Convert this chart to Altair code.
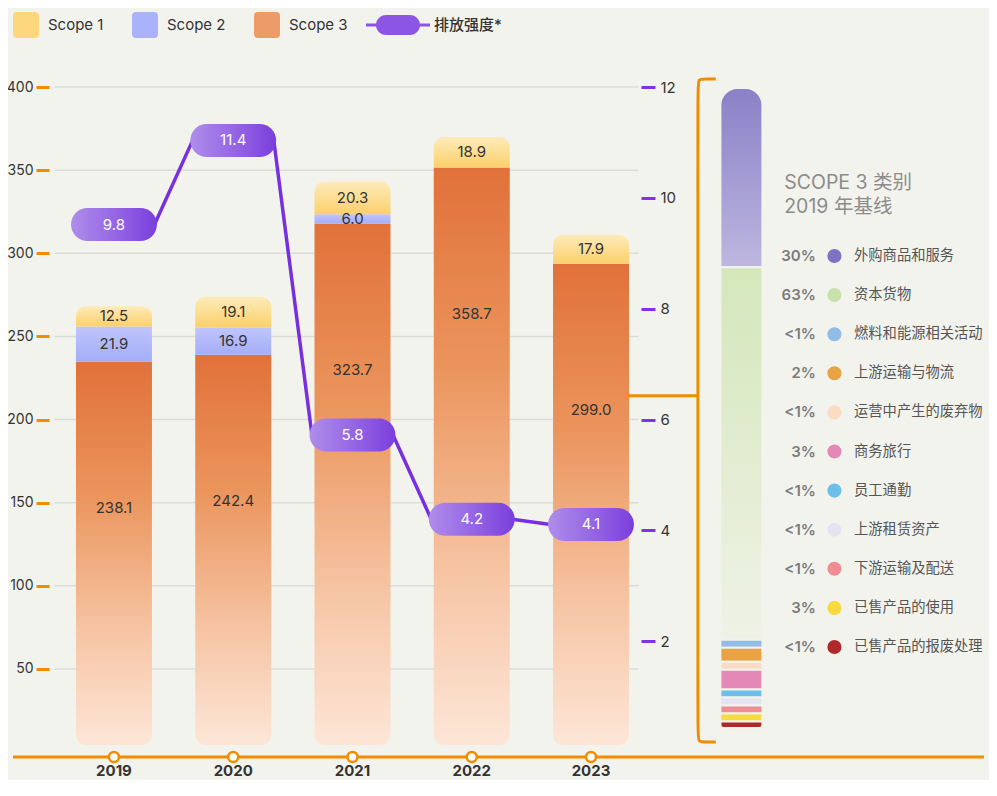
import altair as alt
import pandas as pd

# ---------------- data ----------------
years = ["2019", "2020", "2021", "2022", "2023"]
scope1 = [12.5, 19.1, 20.3, 18.9, 17.9]
scope2 = [21.9, 16.9, 6.0, 0.0, 0.0]
scope3 = [238.1, 242.4, 323.7, 358.7, 299.0]
intensity = [9.8, 11.4, 5.8, 4.2, 4.1]

left_ticks = [50, 100, 150, 200, 250, 300, 350, 400]
right_ticks = [2, 4, 6, 8, 10, 12]

legend_series = ["Scope 1", "Scope 2", "Scope 3"]
intensity_name = "排放强度*"

panel_title = ["SCOPE 3 类别", "2019 年基线"]
cat_names = ["外购商品和服务", "资本货物", "燃料和能源相关活动", "上游运输与物流",
             "运营中产生的废弃物", "商务旅行", "员工通勤", "上游租赁资产",
             "下游运输及配送", "已售产品的使用", "已售产品的报废处理"]
cat_pct = ["30%", "63%", "<1%", "2%", "<1%", "3%", "<1%", "<1%", "<1%", "3%", "<1%"]
# visual share of the stacked category bar (as drawn in the picture)
cat_share = [28.0, 58.2, 1.25, 2.2, 1.25, 3.1, 1.25, 1.25, 1.25, 1.25, 1.0]

# ---------------- styles ----------------
FONT = "Inter, 'Noto Sans CJK SC', sans-serif"
BG = "#f3f3ee"
ORANGE = "#f08c00"
PURPLE_LINE = "#7630df"
TXT = "#333333"
legend_colors = ["#fdd67e", "#aab3fa", "#ec9b69"]
cat_colors = ["#7d73c2", "#c9e2ab", "#92bbe6", "#e9a244", "#fbdcc2", "#e488b6",
              "#6dbfe9", "#e5e3f2", "#ee8d93", "#f6da3e", "#b0292a"]


def vgrad(stops):
    return alt.LinearGradient(gradient="linear", x1=0, x2=0, y1=0, y2=1,
                              stops=[alt.GradientStop(offset=o, color=c) for o, c in stops])


def hgrad(stops):
    return alt.LinearGradient(gradient="linear", x1=0, x2=1, y1=0, y2=0,
                              stops=[alt.GradientStop(offset=o, color=c) for o, c in stops])


X_MIN, X_MAX = -0.8465, 7.295
X_SCALE = alt.Scale(domain=[X_MIN, X_MAX], nice=False, zero=False)
Y_LEFT = alt.Scale(domain=[0, 400], nice=False, zero=False)
Y_RIGHT = alt.Scale(domain=[0, 12], nice=False, zero=False)
Y_BAR = alt.Scale(domain=[-4.3, 408.7], nice=False, zero=False)
Y_INT = alt.Scale(domain=[-0.131, 12.32], nice=False, zero=False)
Y_PANEL = alt.Scale(domain=[-3.75, 100.16], nice=False, zero=False)


def xd(v):
    return alt.XDatum(v, scale=X_SCALE, axis=None)


# ---------------- tables ----------------
n = len(years)
bars = pd.DataFrame({"idx": list(range(n)), "year": years,
                     "s1": scope1, "s2": scope2, "s3": scope3})
bars["base"] = 0.0
bars["top3"] = bars["s3"]
bars["top2"] = bars["s3"] + bars["s2"]
bars["top1"] = bars["top2"] + bars["s1"]
bars["mid2"] = (bars["top3"] + bars["top2"]) / 2
bars["mid1"] = (bars["top2"] + bars["top1"]) / 2
bars["l1"] = [f"{v:.1f}" for v in scope1]
bars["l2"] = [f"{v:.1f}" for v in scope2]
bars["l3"] = [f"{v:.1f}" for v in scope3]

line_rows = []
for i, v in enumerate(intensity):
    line_rows.append({"x": i - 0.34, "v": v, "o": 2 * i})
    line_rows.append({"x": i + 0.34, "v": v, "o": 2 * i + 1})
line_df = pd.DataFrame(line_rows)
pill_df = pd.DataFrame({"idx": list(range(n)), "xl": [i - 0.36 for i in range(n)],
                        "xr": [i + 0.36 for i in range(n)], "v": intensity,
                        "lab": [f"{v:.1f}" for v in intensity]})

cat_df = pd.DataFrame({"name": cat_names, "pct": cat_pct, "share": cat_share,
                       "col": cat_colors, "row": list(range(len(cat_names)))})
bottoms, tops = [0.0] * len(cat_names), [0.0] * len(cat_names)
acc = 0.0
for i in reversed(range(len(cat_names))):
    bottoms[i] = acc
    acc += cat_share[i]
    tops[i] = acc
cat_df["y0"] = bottoms
cat_df["y1"] = tops

# ---------------- left axis + grid ----------------
grid = alt.Chart(pd.DataFrame({"v": left_ticks})).mark_rule(
    color="#dcdcd8", strokeWidth=1.5
).encode(
    x=xd(-0.498), x2=alt.datum(4.398),
    y=alt.Y("v:Q", scale=Y_LEFT, axis=alt.Axis(
        orient="left", offset=-41, values=left_ticks, domain=False, grid=False,
        tickColor=ORANGE, tickWidth=3, tickSize=13, labelFontSize=14,
        labelColor=TXT, labelPadding=3, title=None, labelFont=FONT)),
)

# ---------------- emissions bars ----------------
xn = alt.X("idx:Q", scale=X_SCALE, axis=None)

base = alt.Chart(bars)
b3 = base.mark_bar(size=76, cornerRadiusBottomLeft=10, cornerRadiusBottomRight=10,
                   fill=vgrad([(0, "#e1713a"), (0.35, "#eb955d"), (0.7, "#f6c4a3"), (1, "#fde6d7")])
                   ).encode(x=xn, y=alt.Y("top3:Q", scale=Y_BAR, axis=None), y2="base:Q")
b2 = base.mark_bar(size=76, fill=vgrad([(0, "#c0c5fc"), (1, "#a4adf8")])).encode(
    x=xn, y=alt.Y("top2:Q", scale=Y_BAR, axis=None), y2="top3:Q")
b1 = base.mark_bar(size=76, cornerRadiusTopLeft=10, cornerRadiusTopRight=10,
                   fill=vgrad([(0, "#fdebba"), (1, "#fcd06c")])).encode(
    x=xn, y=alt.Y("top1:Q", scale=Y_BAR, axis=None), y2="top2:Q")
t3 = base.mark_text(fontSize=15, color=TXT, dy=146, font=FONT).encode(
    x=xn, y=alt.Y("top3:Q", scale=Y_BAR, axis=None), text="l3:N")
t2 = base.transform_filter("datum.s2 > 0").mark_text(fontSize=15, color=TXT, font=FONT).encode(
    x=xn, y=alt.Y("mid2:Q", scale=Y_BAR, axis=None), text="l2:N")
t1 = base.mark_text(fontSize=15, color=TXT, font=FONT).encode(
    x=xn, y=alt.Y("mid1:Q", scale=Y_BAR, axis=None), text="l1:N")

# x baseline with year markers and labels
baseline = alt.Chart(pd.DataFrame({"a": [0]})).mark_rule(color=ORANGE, strokeWidth=3).encode(
    x=xd(X_MIN), x2=alt.datum(X_MAX), y=alt.value(670))
dots = base.mark_point(shape="circle", filled=True, fill="#fbfbf8", stroke=ORANGE,
                       strokeWidth=2.5, size=100, opacity=1).encode(x=xn, y=alt.value(670))
year_t = base.mark_text(fontSize=15, fontWeight="bold", color=TXT, font=FONT,
                        baseline="middle").encode(x=xn, y=alt.value(684), text="year:N")
bars_group = alt.layer(b3, b2, b1, t3, t2, t1, baseline, dots, year_t)

# ---------------- intensity line ----------------
iline = alt.Chart(line_df).mark_line(color=PURPLE_LINE, strokeWidth=3.5).encode(
    x=alt.X("x:Q", scale=X_SCALE, axis=None),
    y=alt.Y("v:Q", scale=Y_INT, axis=None), order="o:Q")
pills = alt.Chart(pill_df).mark_bar(orient="horizontal", size=33, cornerRadius=16.5,
                                    fill=hgrad([(0, "#ae8dea"), (0.55, "#9463e4"), (1, "#7a3fdd")])
                                    ).encode(
    x=alt.X("xl:Q", scale=X_SCALE, axis=None), x2="xr:Q",
    y=alt.Y("v:Q", scale=Y_INT, axis=None))
ptext = alt.Chart(pill_df).mark_text(fontSize=15, color="white", font=FONT).encode(
    x=alt.X("idx:Q", scale=X_SCALE, axis=None),
    y=alt.Y("v:Q", scale=Y_INT, axis=None), text="lab:N")
int_group = alt.layer(iline, pills, ptext)

# ---------------- right axis ----------------
raxis = alt.Chart(pd.DataFrame({"v": right_ticks})).mark_point(opacity=0).encode(
    x=alt.value(-500),
    y=alt.Y("v:Q", scale=Y_RIGHT, axis=alt.Axis(
        orient="right", offset=-348, values=right_ticks, domain=False, grid=False,
        tickColor="#8033e6", tickWidth=3, tickSize=14, labelFontSize=15,
        labelColor=TXT, labelPadding=5, title=None, labelFont=FONT)))

# ---------------- scope 3 panel ----------------
bracket_df = pd.DataFrame({
    "x": [5.046, 4.962, 4.896, 4.896, 4.896, 4.896, 4.962, 5.046],
    "y": [101.41, 101.41, 101.41, 100.16, -0.935, -2.185, -2.185, -2.185],
    "o": list(range(8))})
bracket = alt.Chart(bracket_df).mark_line(color=ORANGE, strokeWidth=3, interpolate="basis").encode(
    x=alt.X("x:Q", scale=X_SCALE, axis=None),
    y=alt.Y("y:Q", scale=Y_PANEL, axis=None), order="o:Q")
connector = alt.Chart(pd.DataFrame({"y": [51.9]})).mark_rule(color=ORANGE, strokeWidth=3).encode(
    x=xd(4.307), x2=alt.datum(4.896), y=alt.Y("y:Q", scale=Y_PANEL, axis=None))

cat_base = alt.Chart(cat_df)
cx = xd(5.261)
seg_top = cat_base.transform_filter("datum.row == 0").mark_bar(
    size=42, cornerRadiusTopLeft=17, cornerRadiusTopRight=17, stroke=BG, strokeWidth=2,
    fill=vgrad([(0, "#8a80c6"), (1, "#bdb7e0")])).encode(
    x=cx, y=alt.Y("y1:Q", scale=Y_PANEL, axis=None), y2="y0:Q")
seg_green = cat_base.transform_filter("datum.row == 1").mark_bar(
    size=42, stroke=BG, strokeWidth=2,
    fill=vgrad([(0, "#d4e7ba"), (1, "#eff2e6")])).encode(
    x=cx, y=alt.Y("y1:Q", scale=Y_PANEL, axis=None), y2="y0:Q")
seg_small = cat_base.transform_filter("datum.row >= 2 && datum.row <= 9").mark_bar(
    size=42, stroke=BG, strokeWidth=2).encode(
    x=cx, y=alt.Y("y1:Q", scale=Y_PANEL, axis=None), y2="y0:Q",
    color=alt.Color("col:N", scale=None))
seg_last = cat_base.transform_filter("datum.row == 10").mark_bar(
    size=42, stroke=BG, strokeWidth=2, cornerRadiusBottomLeft=8, cornerRadiusBottomRight=8).encode(
    x=cx, y=alt.Y("y1:Q", scale=Y_PANEL, axis=None), y2="y0:Q",
    color=alt.Color("col:N", scale=None))
panel_group = alt.layer(bracket, connector, seg_top, seg_green, seg_small, seg_last)

# ---------------- panel legend rows ----------------
YR = alt.Y("row:O", scale=alt.Scale(type="point", range=[169, 560], padding=0), axis=None)
pct_t = cat_base.mark_text(align="right", fontSize=15, fontWeight=600, color="#7b7b7b", font=FONT).encode(
    x=xd(5.885), y=YR, text="pct:N")
dot_c = cat_base.mark_circle(size=200, opacity=1).encode(
    x=xd(6.041), y=YR, color=alt.Color("col:N", scale=None))
name_t = cat_base.mark_text(align="left", fontSize=14.3, color="#555555", font=FONT).encode(
    x=xd(6.205), y=YR, text="name:N")
title_t = alt.Chart(pd.DataFrame({"a": [0]})).mark_text(
    text=panel_title, align="left", baseline="top", fontSize=19.5, lineHeight=24,
    color="#8c8c8c", font=FONT).encode(x=xd(5.62), y=alt.value(87))
rows_group = alt.layer(pct_t, dot_c, name_t, title_t)

# ---------------- legends ----------------
sq_path = ("M-0.7,-1 L0.7,-1 Q1,-1 1,-0.7 L1,0.7 Q1,1 0.7,1 L-0.7,1 Q-1,1 -1,0.7 "
           "L-1,-0.7 Q-1,-1 -0.7,-1 Z")
cap_path = ("M-1.4545,-0.073 L-0.95,-0.073 L-0.95,0.073 L-1.4545,0.073 Z "
            "M0.95,-0.073 L1.4545,-0.073 L1.4545,0.073 L0.95,0.073 Z "
            "M-0.5455,-0.4545 L0.5455,-0.4545 A0.4545,0.4545 0 0 1 0.5455,0.4545 "
            "L-0.5455,0.4545 A0.4545,0.4545 0 0 1 -0.5455,-0.4545 Z")
leg1 = alt.Chart(pd.DataFrame({"s": legend_series})).mark_point(filled=True, opacity=1).encode(
    x=alt.value(-500), y=alt.value(-500),
    fill=alt.Fill("s:N", scale=alt.Scale(domain=legend_series, range=legend_colors),
                  legend=alt.Legend(title=None, orient="none", legendX=5, legendY=-75,
                                    direction="horizontal", symbolType=sq_path, symbolSize=676,
                                    symbolStrokeWidth=0, labelFontSize=15, labelColor=TXT,
                                    labelOffset=9, columnPadding=28, padding=0, labelFont=FONT)))
leg2 = alt.Chart(pd.DataFrame({"s": [intensity_name]})).mark_point(
    filled=True, color="#8d55e3", opacity=1).encode(
    x=alt.value(-500), y=alt.value(-500),
    shape=alt.Shape("s:N", scale=alt.Scale(domain=[intensity_name], range=[cap_path]),
                    legend=alt.Legend(title=None, orient="none", legendX=368, legendY=-84,
                                      symbolSize=1936, symbolStrokeWidth=0,
                                      symbolFillColor="#8d55e3", labelOffset=14,
                                      labelFontSize=15, labelColor=TXT, labelFontWeight=500,
                                      padding=0, labelFont=FONT)))

chart = alt.layer(
    grid, bars_group, int_group, raxis, panel_group, rows_group, leg1, leg2
).resolve_scale(y="independent").properties(
    width=981, height=665,
    autosize=alt.AutoSizeParams(type="none"),
    padding={"left": 0, "right": 0, "top": 79, "bottom": 28},
    background=BG,
).configure(font=FONT).configure_view(stroke=None)

chart.save("out.html", embed_options={"renderer": "svg", "actions": False})
